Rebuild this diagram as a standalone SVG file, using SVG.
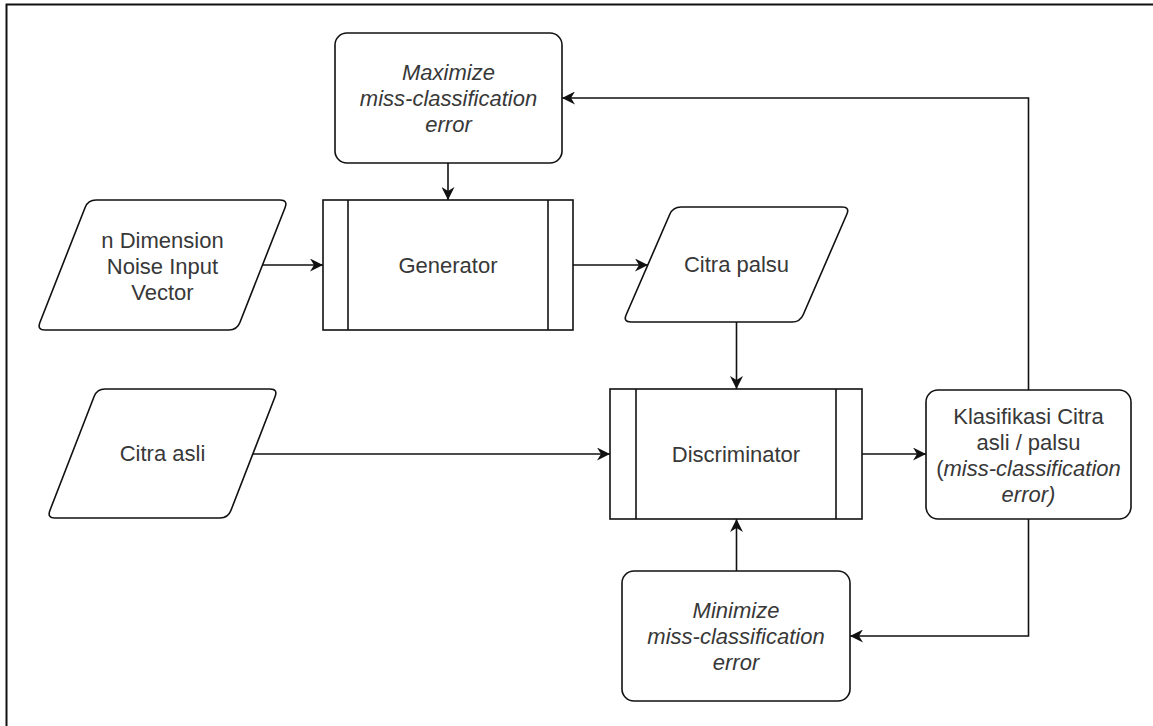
<svg xmlns="http://www.w3.org/2000/svg" width="1153" height="726" viewBox="0 0 1153 726">
  <defs>
    <style>
      .shape { fill: #ffffff; stroke: #111111; stroke-width: 1.6; }
      .edge { fill: none; stroke: #111111; stroke-width: 1.6; }
      .lbl { font-family: "Liberation Sans", Arial, sans-serif; font-size: 22px; fill: #383838; text-anchor: middle; }
      .it { font-style: italic; }
    </style>
    <marker id="arrow" markerUnits="userSpaceOnUse" markerWidth="14" markerHeight="13" refX="13" refY="6.5" orient="auto">
      <path d="M0,0 L13,6.5 L0,13 L4,6.5 Z" fill="#111111"/>
    </marker>
  </defs>

  <rect width="1153" height="726" fill="#ffffff"/>
  <!-- frame -->
  <path d="M6.5,730 V4.5 H1160" fill="none" stroke="#111111" stroke-width="2"/>

  <!-- connectors -->
  <g id="connectors">
    <line class="edge" x1="448" y1="163" x2="448" y2="200" marker-end="url(#arrow)"/>
    <line class="edge" x1="262.5" y1="265" x2="323" y2="265" marker-end="url(#arrow)"/>
    <line class="edge" x1="573" y1="265" x2="648" y2="265" marker-end="url(#arrow)"/>
    <line class="edge" x1="736.5" y1="322" x2="736.5" y2="389" marker-end="url(#arrow)"/>
    <line class="edge" x1="253" y1="454" x2="610" y2="454" marker-end="url(#arrow)"/>
    <line class="edge" x1="862" y1="454" x2="926" y2="454" marker-end="url(#arrow)"/>
    <line class="edge" x1="736.5" y1="571" x2="736.5" y2="519" marker-end="url(#arrow)"/>
    <polyline class="edge" points="1028.5,390 1028.5,98 562,98" marker-end="url(#arrow)"/>
    <polyline class="edge" points="1028.5,519 1028.5,636 850,636" marker-end="url(#arrow)"/>
  </g>

  <!-- Maximize -->
  <g id="maximize">
    <rect class="shape" x="335" y="33" width="227" height="130" rx="12"/>
    <text class="lbl it" x="448.5" y="80">Maximize</text>
    <text class="lbl it" x="448.5" y="106">miss-classification</text>
    <text class="lbl it" x="448.5" y="132">error</text>
  </g>

  <!-- noise input -->
  <g id="noise-input">
    <path class="shape" d="M96,200 L280,200 Q288,200 285.1,207.45 L239.9,322.55 Q237,330 229,330 L45,330 Q37,330 39.9,322.55 L85.1,207.45 Q88,200 96,200 Z"/>
    <text class="lbl" x="162.5" y="248">n Dimension</text>
    <text class="lbl" x="162.5" y="274">Noise Input</text>
    <text class="lbl" x="162.5" y="300">Vector</text>
  </g>

  <!-- Generator -->
  <g id="generator">
    <rect class="shape" x="323" y="200" width="250" height="130"/>
    <line class="edge" x1="348" y1="200" x2="348" y2="330"/>
    <line class="edge" x1="548" y1="200" x2="548" y2="330"/>
    <text class="lbl" x="448" y="273">Generator</text>
  </g>

  <!-- Citra palsu -->
  <g id="citra-palsu">
    <path class="shape" d="M681,207 L842,207 Q850,207 846.8,214.3 L803.2,314.7 Q800,322 792,322 L631,322 Q623,322 626.2,314.7 L669.8,214.3 Q673,207 681,207 Z"/>
    <text class="lbl" x="736.5" y="272">Citra palsu</text>
  </g>

  <!-- Citra asli -->
  <g id="citra-asli">
    <path class="shape" d="M105,389 L270,389 Q278,389 275.1,396.5 L230.9,510.5 Q228,518 220,518 L55,518 Q47,518 49.9,510.5 L94.1,396.5 Q97,389 105,389 Z"/>
    <text class="lbl" x="162.5" y="461">Citra asli</text>
  </g>

  <!-- Discriminator -->
  <g id="discriminator">
    <rect class="shape" x="610" y="389" width="252" height="130"/>
    <line class="edge" x1="636" y1="389" x2="636" y2="519"/>
    <line class="edge" x1="836" y1="389" x2="836" y2="519"/>
    <text class="lbl" x="736" y="462">Discriminator</text>
  </g>

  <!-- Klasifikasi -->
  <g id="klasifikasi">
    <rect class="shape" x="926" y="390" width="205" height="129" rx="12"/>
    <text class="lbl" x="1028.5" y="424">Klasifikasi Citra</text>
    <text class="lbl" x="1028.5" y="450">asli / palsu</text>
    <text class="lbl" x="1028.5" y="476">(<tspan class="it">miss-classification</tspan></text>
    <text class="lbl it" x="1028.5" y="502">error)</text>
  </g>

  <!-- Minimize -->
  <g id="minimize">
    <rect class="shape" x="622" y="571" width="228" height="130" rx="12"/>
    <text class="lbl it" x="736" y="618">Minimize</text>
    <text class="lbl it" x="736" y="644">miss-classification</text>
    <text class="lbl it" x="736" y="670">error</text>
  </g>
</svg>
